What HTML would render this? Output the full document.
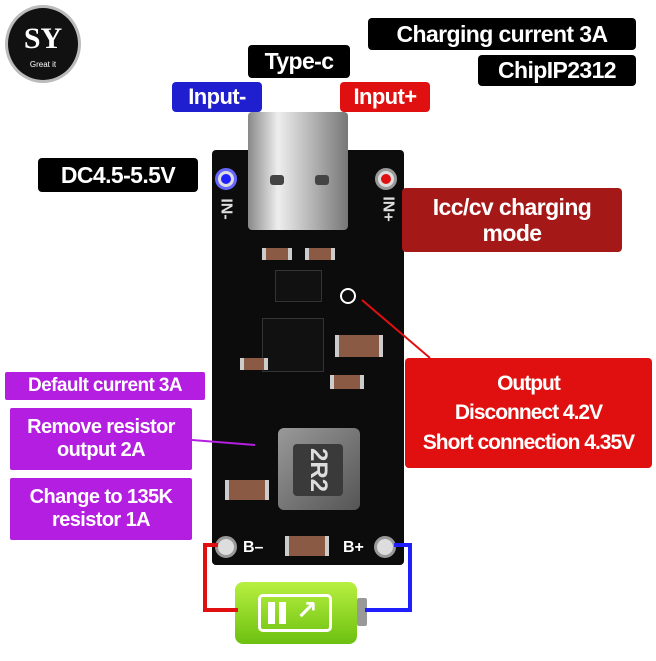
<!DOCTYPE html>
<html><head><meta charset="utf-8"><style>
body{margin:0;width:656px;height:661px;background:#fff;position:relative;overflow:hidden;font-family:"Liberation Sans",sans-serif}
.a{position:absolute}
.lb{position:absolute;z-index:5;color:#fff;font-weight:bold;display:flex;align-items:center;justify-content:center;text-align:center;border-radius:4px;line-height:1.15;letter-spacing:-0.6px;white-space:nowrap}
.blk{background:#000}
.pur{background:#b41ee0;border-radius:2px}
.hole{position:absolute;width:22px;height:22px;border-radius:50%;background:#ddd;border:3px solid #999;box-sizing:border-box}
.smd{position:absolute;background:#8a5a44;border-left:4px solid #ccc;border-right:4px solid #ccc}
.chip{position:absolute;background:#111;border:1px solid #333}
</style></head><body>
<div class="a" style="left:5px;top:5px;width:76px;height:78px;border-radius:50%;background:#111;border:3px solid #bbb;box-sizing:border-box"></div>
<div class="a" style="left:12px;top:22px;width:62px;text-align:center;color:#fff;font:bold 30px 'Liberation Serif',serif">SY</div>
<div class="a" style="left:12px;top:60px;width:62px;text-align:center;color:#fff;font-size:8px">Great it</div>

<div class="lb blk" style="left:368px;top:18px;width:268px;height:32px;font-size:23px">Charging current 3A</div>
<div class="lb blk" style="left:478px;top:55px;width:158px;height:31px;font-size:23px">ChipIP2312</div>
<div class="lb blk" style="left:248px;top:45px;width:102px;height:33px;font-size:23px">Type-c</div>
<div class="lb" style="left:172px;top:82px;width:90px;height:30px;font-size:22px;background:#1f1fd0">Input-</div>
<div class="lb" style="left:340px;top:82px;width:90px;height:30px;font-size:22px;background:#e01010">Input+</div>
<div class="lb blk" style="left:38px;top:158px;width:160px;height:34px;font-size:23px">DC4.5-5.5V</div>

<div class="a" style="left:212px;top:150px;width:192px;height:415px;background:#0c0c0c;border-radius:4px"></div>
<div class="a" style="left:248px;top:112px;width:100px;height:118px;background:linear-gradient(90deg,#888,#eee 30%,#bbb 60%,#777);border-radius:4px"></div>
<div class="a" style="left:270px;top:175px;width:14px;height:10px;background:#444;border-radius:3px"></div>
<div class="a" style="left:315px;top:175px;width:14px;height:10px;background:#444;border-radius:3px"></div>
<div class="hole" style="left:215px;top:168px;border-color:#66f"></div>
<div class="a" style="left:221px;top:174px;width:10px;height:10px;border-radius:50%;background:#2020ff"></div>
<div class="hole" style="left:375px;top:168px"></div>
<div class="a" style="left:381px;top:174px;width:10px;height:10px;border-radius:50%;background:#e01010"></div>
<div class="a" style="left:215px;top:200px;color:#ddd;font-size:16px;font-weight:bold;transform:rotate(90deg)">IN-</div>
<div class="a" style="left:375px;top:200px;color:#ddd;font-size:16px;font-weight:bold;transform:rotate(90deg)">IN+</div>
<div class="smd" style="left:262px;top:248px;width:22px;height:12px"></div>
<div class="smd" style="left:305px;top:248px;width:22px;height:12px"></div>
<div class="chip" style="left:275px;top:270px;width:45px;height:30px"></div>
<div class="chip" style="left:262px;top:318px;width:60px;height:52px"></div>
<div class="smd" style="left:335px;top:335px;width:40px;height:22px"></div>
<div class="a" style="left:340px;top:288px;width:16px;height:16px;border-radius:50%;border:2px solid #fff;box-sizing:border-box"></div>
<div class="smd" style="left:330px;top:375px;width:26px;height:14px"></div>
<div class="smd" style="left:240px;top:358px;width:20px;height:12px"></div>
<div class="a" style="left:278px;top:428px;width:82px;height:82px;background:linear-gradient(135deg,#999,#555);border-radius:6px"></div>
<div class="a" style="left:292px;top:445px;width:52px;height:50px;background:#3a3a3a;border-radius:4px;color:#ddd;font:bold 24px 'Liberation Sans';display:flex;align-items:center;justify-content:center;transform:rotate(90deg)">2R2</div>
<div class="smd" style="left:225px;top:480px;width:36px;height:20px"></div>
<div class="smd" style="left:285px;top:536px;width:36px;height:20px"></div>
<div class="hole" style="left:215px;top:536px"></div>
<div class="hole" style="left:374px;top:536px"></div>
<div class="a" style="left:243px;top:539px;color:#fff;font-size:16px;font-weight:bold">B–</div>
<div class="a" style="left:343px;top:539px;color:#fff;font-size:16px;font-weight:bold">B+</div>

<div class="lb" style="left:402px;top:188px;width:220px;height:64px;font-size:23px;background:#a51818">Icc/cv charging<br>mode</div>
<div class="lb" style="left:405px;top:358px;width:247px;height:110px;font-size:21px;background:#e01010;line-height:1.4;letter-spacing:-1px">Output<br>Disconnect 4.2V<br>Short connection 4.35V</div>
<div class="lb pur" style="left:5px;top:372px;width:200px;height:28px;font-size:19px">Default current 3A</div>
<div class="lb pur" style="left:10px;top:408px;width:182px;height:62px;font-size:20px">Remove resistor<br>output 2A</div>
<div class="lb pur" style="left:10px;top:478px;width:182px;height:62px;font-size:20px">Change to 135K<br>resistor 1A</div>
<svg class="a" style="left:0;top:0;z-index:4" width="656" height="661">
<line x1="362" y1="300" x2="430" y2="358" stroke="#e01010" stroke-width="2"/>
<line x1="192" y1="440" x2="255" y2="445" stroke="#b41ee0" stroke-width="2"/>
<polyline points="218,545 205,545 205,610 238,610" fill="none" stroke="#e01010" stroke-width="4"/>
<polyline points="394,545 410,545 410,610 365,610" fill="none" stroke="#2020ff" stroke-width="4"/>
</svg>
<div class="a" style="left:235px;top:582px;width:122px;height:62px;border-radius:8px;background:linear-gradient(180deg,#b8f040,#6cc010)"></div>
<div class="a" style="left:357px;top:598px;width:10px;height:28px;background:#999;border-radius:2px"></div>
<div class="a" style="left:258px;top:594px;width:74px;height:38px;border:3px solid #fff;border-radius:5px;box-sizing:border-box"></div>
<div class="a" style="left:268px;top:602px;width:7px;height:22px;background:#fff"></div>
<div class="a" style="left:279px;top:602px;width:7px;height:22px;background:#fff"></div>
<div class="a" style="left:296px;top:596px;color:#fff;font:bold 26px 'DejaVu Sans'">↗</div>
</body></html>
